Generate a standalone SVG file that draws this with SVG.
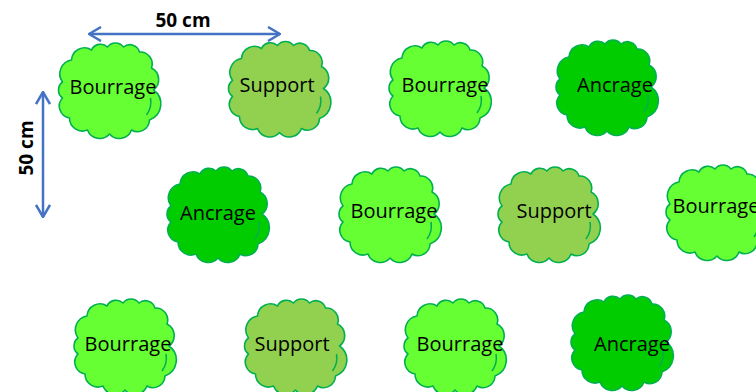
<svg xmlns="http://www.w3.org/2000/svg" xmlns:xlink="http://www.w3.org/1999/xlink" width="756" height="392" viewBox="0 0 756 392">
<style>
.cloud{stroke:#00B050;stroke-width:1.6;stroke-linejoin:round}
.bour{fill:#66FF33}
.supp{fill:#92D050}
.ancr{fill:#00CC00}
.lbl{font-family:"Open Sans","Liberation Sans",sans-serif;font-size:20px;fill:#000;text-anchor:middle}
.dim{font-family:"Open Sans","Liberation Sans",sans-serif;font-size:19px;font-weight:bold;fill:#000;text-anchor:middle}
.arr{stroke:#4472C4;stroke-width:2.5;fill:none}
</style>
<defs>
<g id="cloud">
<path d="M-47,-8 A14,14 0 0 1 -38,-30 A13,13 0 0 1 -18,-40 A10,10 0 0 1 -2,-43 A10,10 0 0 1 14,-43 A10,10 0 0 1 30,-38 A12,12 0 0 1 42,-22 A13,13 0 0 1 44,0 A17,17 0 0 1 40,30 A12,12 0 0 1 22,40 A13,13 0 0 1 0,44 A13,13 0 0 1 -22,40 A13,13 0 0 1 -40,28 A12,12 0 0 1 -47,8 A10,10 0 0 1 -47,-8 Z"/>
<path d="M41,8 A22,22 0 0 1 37,25" fill="none"/>
</g>
<marker id="head" viewBox="0 0 14 16" refX="13" refY="8" markerWidth="14" markerHeight="16" markerUnits="userSpaceOnUse" orient="auto-start-reverse">
<path d="M1,1 L13,8 L1,15" fill="none" stroke="#4472C4" stroke-width="2.5"/>
</marker>
</defs>

<g id="connectors">
<line class="arr" x1="89" y1="34" x2="280" y2="34" marker-start="url(#head)" marker-end="url(#head)"/>
<line class="arr" x1="43" y1="92" x2="43" y2="217" marker-start="url(#head)" marker-end="url(#head)"/>
</g>
<g id="dim-h"><text class="dim" x="183" y="27">50 cm</text></g>
<g id="dim-v"><text class="dim" transform="translate(33,148) rotate(-90)">50 cm</text></g>

<g id="n1"><use xlink:href="#cloud" href="#cloud" class="cloud bour" x="109.5" y="90"/><text class="lbl" x="113" y="94">Bourrage</text></g>
<g id="n2"><use xlink:href="#cloud" href="#cloud" class="cloud supp" x="279.5" y="88.5"/><text class="lbl" x="277" y="92">Support</text></g>
<g id="n3"><use xlink:href="#cloud" href="#cloud" class="cloud bour" x="440" y="88"/><text class="lbl" x="445" y="92">Bourrage</text></g>
<g id="n4"><use xlink:href="#cloud" href="#cloud" class="cloud ancr" x="607" y="87"/><text class="lbl" x="615" y="92">Ancrage</text></g>

<g id="n5"><use xlink:href="#cloud" href="#cloud" class="cloud ancr" x="218" y="214"/><text class="lbl" x="218" y="220">Ancrage</text></g>
<g id="n6"><use xlink:href="#cloud" href="#cloud" class="cloud bour" x="390" y="214"/><text class="lbl" x="394" y="218">Bourrage</text></g>
<g id="n7"><use xlink:href="#cloud" href="#cloud" class="cloud supp" x="549" y="214"/><text class="lbl" x="554" y="218">Support</text></g>
<g id="n8"><use xlink:href="#cloud" href="#cloud" class="cloud bour" x="717" y="212"/><text class="lbl" x="716" y="213">Bourrage</text></g>

<g id="n9"><use xlink:href="#cloud" href="#cloud" class="cloud bour" x="125" y="346"/><text class="lbl" x="128" y="351">Bourrage</text></g>
<g id="n10"><use xlink:href="#cloud" href="#cloud" class="cloud supp" x="295.5" y="346"/><text class="lbl" x="292" y="351">Support</text></g>
<g id="n11"><use xlink:href="#cloud" href="#cloud" class="cloud bour" x="455" y="346"/><text class="lbl" x="460" y="351">Bourrage</text></g>
<g id="n12"><use xlink:href="#cloud" href="#cloud" class="cloud ancr" x="622" y="342"/><text class="lbl" x="632" y="351">Ancrage</text></g>
</svg>
